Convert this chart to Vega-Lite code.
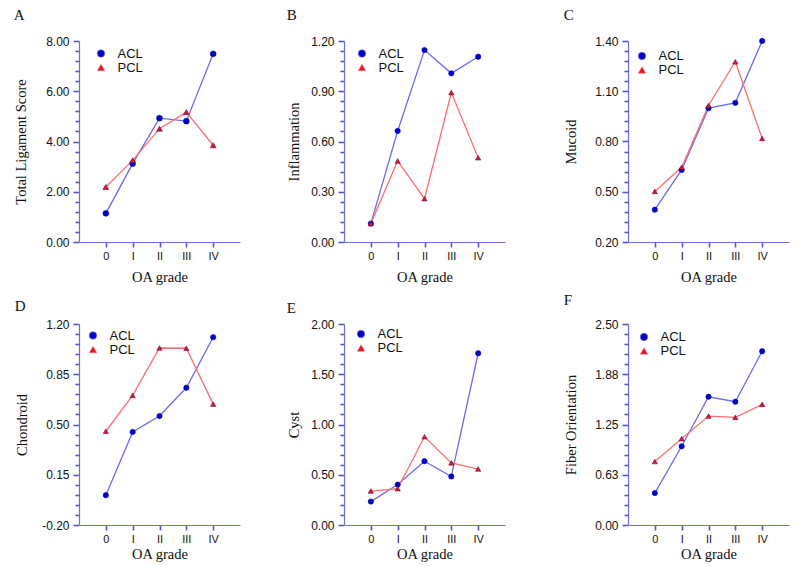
{
  "$schema": "https://vega.github.io/schema/vega-lite/v6.json",
  "padding": {"left": 13, "top": 8, "right": 5, "bottom": 5},
  "background": "white",
  "data": {"values": [
    {"panel":"A","g":0,"lig":"ACL","v":1.14},{"panel":"A","g":1,"lig":"ACL","v":3.12},{"panel":"A","g":2,"lig":"ACL","v":4.93},{"panel":"A","g":3,"lig":"ACL","v":4.81},{"panel":"A","g":4,"lig":"ACL","v":7.49},
    {"panel":"A","g":0,"lig":"PCL","v":2.19},{"panel":"A","g":1,"lig":"PCL","v":3.25},{"panel":"A","g":2,"lig":"PCL","v":4.51},{"panel":"A","g":3,"lig":"PCL","v":5.17},{"panel":"A","g":4,"lig":"PCL","v":3.85},
    {"panel":"B","g":0,"lig":"ACL","v":0.11},{"panel":"B","g":1,"lig":"ACL","v":0.663},{"panel":"B","g":2,"lig":"ACL","v":1.146},{"panel":"B","g":3,"lig":"ACL","v":1.007},{"panel":"B","g":4,"lig":"ACL","v":1.106},
    {"panel":"B","g":0,"lig":"PCL","v":0.11},{"panel":"B","g":1,"lig":"PCL","v":0.484},{"panel":"B","g":2,"lig":"PCL","v":0.259},{"panel":"B","g":3,"lig":"PCL","v":0.892},{"panel":"B","g":4,"lig":"PCL","v":0.503},
    {"panel":"C","g":0,"lig":"ACL","v":0.393},{"panel":"C","g":1,"lig":"ACL","v":0.63},{"panel":"C","g":2,"lig":"ACL","v":0.999},{"panel":"C","g":3,"lig":"ACL","v":1.031},{"panel":"C","g":4,"lig":"ACL","v":1.4},
    {"panel":"C","g":0,"lig":"PCL","v":0.502},{"panel":"C","g":1,"lig":"PCL","v":0.646},{"panel":"C","g":2,"lig":"PCL","v":1.015},{"panel":"C","g":3,"lig":"PCL","v":1.276},{"panel":"C","g":4,"lig":"PCL","v":0.818},
    {"panel":"D","g":0,"lig":"ACL","v":0.008},{"panel":"D","g":1,"lig":"ACL","v":0.448},{"panel":"D","g":2,"lig":"ACL","v":0.559},{"panel":"D","g":3,"lig":"ACL","v":0.756},{"panel":"D","g":4,"lig":"ACL","v":1.108},
    {"panel":"D","g":0,"lig":"PCL","v":0.453},{"panel":"D","g":1,"lig":"PCL","v":0.703},{"panel":"D","g":2,"lig":"PCL","v":1.033},{"panel":"D","g":3,"lig":"PCL","v":1.031},{"panel":"D","g":4,"lig":"PCL","v":0.642},
    {"panel":"E","g":0,"lig":"ACL","v":0.233},{"panel":"E","g":1,"lig":"ACL","v":0.402},{"panel":"E","g":2,"lig":"ACL","v":0.635},{"panel":"E","g":3,"lig":"ACL","v":0.483},{"panel":"E","g":4,"lig":"ACL","v":1.709},
    {"panel":"E","g":0,"lig":"PCL","v":0.338},{"panel":"E","g":1,"lig":"PCL","v":0.362},{"panel":"E","g":2,"lig":"PCL","v":0.878},{"panel":"E","g":3,"lig":"PCL","v":0.618},{"panel":"E","g":4,"lig":"PCL","v":0.557},
    {"panel":"F","g":0,"lig":"ACL","v":0.397},{"panel":"F","g":1,"lig":"ACL","v":0.979},{"panel":"F","g":2,"lig":"ACL","v":1.595},{"panel":"F","g":3,"lig":"ACL","v":1.533},{"panel":"F","g":4,"lig":"ACL","v":2.161},
    {"panel":"F","g":0,"lig":"PCL","v":0.789},{"panel":"F","g":1,"lig":"PCL","v":1.074},{"panel":"F","g":2,"lig":"PCL","v":1.355},{"panel":"F","g":3,"lig":"PCL","v":1.339},{"panel":"F","g":4,"lig":"PCL","v":1.5}
  ]},
  "spacing": 9,
  "vconcat": [
    {
      "bounds": "flush",
      "spacing": 104,
      "resolve": {"scale": {"color": "independent", "fill": "independent", "shape": "independent", "stroke": "independent"}},
      "hconcat": [
        {
          "title": {"text": "A", "offset": 12},
          "width": 161, "height": 201,
          "transform": [{"filter": "datum.panel === 'A'"}],
          "resolve": {"axis": {"y": "independent"}},
          "layer": [
            {"mark": {"type": "line", "strokeWidth": 1.3},
             "encoding": {
               "x": {"field": "g", "type": "quantitative", "scale": {"domain": [-1, 5], "nice": false, "zero": false}, "axis": {"values": [0,1,2,3,4], "labelExpr": "['0','I','II','III','IV'][datum.value]", "title": "OA grade", "titlePadding": 9, "ticks": true, "tickSize": 5, "tickColor": "#5555cc", "tickWidth": 1.6, "tickOpacity": 1}},
               "y": {"field": "v", "type": "quantitative", "scale": {"domain": [0, 8], "nice": false, "zero": false},
                     "axis": {"title": "Total Ligament Score", "titlePadding": 17, "values": [0,2,4,6,8], "format": ".2f", "ticks": true, "tickSize": 6, "tickColor": "#5555cc", "tickWidth": 1.6, "tickOpacity": 1}},
               "color": {"field": "lig", "type": "nominal", "scale": {"domain": ["ACL","PCL"], "range": ["#6c6cec","#ff6e6e"]},
                         "legend": {"title": null, "orient": "none", "legendX": 15.5, "legendY": 6, "padding": 0, "rowPadding": 0, "symbolSize": 55, "labelFont": "Liberation Sans", "labelFontSize": 13, "labelColor": "#111111", "labelOffset": 10,
                                    "encode": {"symbols": {"update": {"fill": [{"test": "datum.label === 'ACL'", "value": "#0000c4"}, {"value": "#e8102c"}], "stroke": [{"test": "datum.label === 'ACL'", "value": "#0000c4"}, {"value": "#5a1a48"}], "strokeWidth": {"value": 0.6}, "opacity": {"value": 1}}}}}}
             }},
            {"mark": {"type": "point", "filled": true, "size": 34, "strokeWidth": 0.6, "opacity": 1},
             "encoding": {
               "x": {"field": "g", "type": "quantitative"},
               "y": {"field": "v", "type": "quantitative", "axis": {"orient": "left", "title": null, "labels": false, "domain": false, "ticks": true, "tickSize": 4, "tickColor": "#5555cc", "tickWidth": 1.6, "tickOpacity": 1, "values": [0.4,0.8,1.2,1.6,2.4,2.8,3.2,3.6,4.4,4.8,5.2,5.6,6.4,6.8,7.2,7.6]}},
               "shape": {"field": "lig", "type": "nominal", "scale": {"domain": ["ACL","PCL"], "range": ["circle","triangle-up"]}, "legend": null},
               "fill": {"field": "lig", "type": "nominal", "scale": {"domain": ["ACL","PCL"], "range": ["#0000c4","#e8102c"]}, "legend": null},
               "stroke": {"field": "lig", "type": "nominal", "scale": {"domain": ["ACL","PCL"], "range": ["#0000c4","#5a1a48"]}, "legend": null}
             }}
          ]
        },
        {
          "bounds": "flush",
          "spacing": 123,
          "resolve": {"scale": {"color": "independent", "fill": "independent", "shape": "independent", "stroke": "independent"}},
          "hconcat": [
            {
              "title": {"text": "B", "offset": 12},
              "width": 161, "height": 201,
              "transform": [{"filter": "datum.panel === 'B'"}],
              "resolve": {"axis": {"y": "independent"}},
              "layer": [
                {"mark": {"type": "line", "strokeWidth": 1.3},
                 "encoding": {
                   "x": {"field": "g", "type": "quantitative", "scale": {"domain": [-1, 5], "nice": false, "zero": false}, "axis": {"values": [0,1,2,3,4], "labelExpr": "['0','I','II','III','IV'][datum.value]", "title": "OA grade", "titlePadding": 9, "ticks": true, "tickSize": 5, "tickColor": "#5555cc", "tickWidth": 1.6, "tickOpacity": 1}},
                   "y": {"field": "v", "type": "quantitative", "scale": {"domain": [0, 1.2], "nice": false, "zero": false},
                         "axis": {"title": "Inflammation", "titlePadding": 9, "values": [0,0.3,0.6,0.9,1.2], "format": ".2f", "ticks": true, "tickSize": 6, "tickColor": "#5555cc", "tickWidth": 1.6, "tickOpacity": 1}},
                   "color": {"field": "lig", "type": "nominal", "scale": {"domain": ["ACL","PCL"], "range": ["#6c6cec","#ff6e6e"]},
                             "legend": {"title": null, "orient": "none", "legendX": 11.5, "legendY": 6, "padding": 0, "rowPadding": 0, "symbolSize": 55, "labelFont": "Liberation Sans", "labelFontSize": 13, "labelColor": "#111111", "labelOffset": 10,
                                        "encode": {"symbols": {"update": {"fill": [{"test": "datum.label === 'ACL'", "value": "#0000c4"}, {"value": "#e8102c"}], "stroke": [{"test": "datum.label === 'ACL'", "value": "#0000c4"}, {"value": "#5a1a48"}], "strokeWidth": {"value": 0.6}, "opacity": {"value": 1}}}}}}
                 }},
                {"mark": {"type": "point", "filled": true, "size": 28, "strokeWidth": 0.6, "opacity": 1},
                 "encoding": {
                   "x": {"field": "g", "type": "quantitative"},
                   "y": {"field": "v", "type": "quantitative", "axis": {"orient": "left", "title": null, "labels": false, "domain": false, "ticks": true, "tickSize": 4, "tickColor": "#5555cc", "tickWidth": 1.6, "tickOpacity": 1, "values": [0.06,0.12,0.18,0.24,0.36,0.42,0.48,0.54,0.66,0.72,0.78,0.84,0.96,1.02,1.08,1.14]}},
                   "shape": {"field": "lig", "type": "nominal", "scale": {"domain": ["ACL","PCL"], "range": ["circle","triangle-up"]}, "legend": null},
                   "fill": {"field": "lig", "type": "nominal", "scale": {"domain": ["ACL","PCL"], "range": ["#0000c4","#e8102c"]}, "legend": null},
                   "stroke": {"field": "lig", "type": "nominal", "scale": {"domain": ["ACL","PCL"], "range": ["#0000c4","#5a1a48"]}, "legend": null}
                 }}
              ]
            },
            {
              "title": {"text": "C", "offset": 12},
              "width": 161, "height": 201,
              "transform": [{"filter": "datum.panel === 'C'"}],
              "resolve": {"axis": {"y": "independent"}},
              "layer": [
                {"mark": {"type": "line", "strokeWidth": 1.3},
                 "encoding": {
                   "x": {"field": "g", "type": "quantitative", "scale": {"domain": [-1, 5], "nice": false, "zero": false}, "axis": {"values": [0,1,2,3,4], "labelExpr": "['0','I','II','III','IV'][datum.value]", "title": "OA grade", "titlePadding": 9, "ticks": true, "tickSize": 5, "tickColor": "#5555cc", "tickWidth": 1.6, "tickOpacity": 1}},
                   "y": {"field": "v", "type": "quantitative", "scale": {"domain": [0.2, 1.4], "nice": false, "zero": false},
                         "axis": {"title": "Mucoid", "titlePadding": 16, "values": [0.2,0.5,0.8,1.1,1.4], "format": ".2f", "ticks": true, "tickSize": 6, "tickColor": "#5555cc", "tickWidth": 1.6, "tickOpacity": 1}},
                   "color": {"field": "lig", "type": "nominal", "scale": {"domain": ["ACL","PCL"], "range": ["#6c6cec","#ff6e6e"]},
                             "legend": {"title": null, "orient": "none", "legendX": 7.5, "legendY": 8.5, "padding": 0, "rowPadding": 0, "symbolSize": 55, "labelFont": "Liberation Sans", "labelFontSize": 13, "labelColor": "#111111", "labelOffset": 10,
                                        "encode": {"symbols": {"update": {"fill": [{"test": "datum.label === 'ACL'", "value": "#0000c4"}, {"value": "#e8102c"}], "stroke": [{"test": "datum.label === 'ACL'", "value": "#0000c4"}, {"value": "#5a1a48"}], "strokeWidth": {"value": 0.6}, "opacity": {"value": 1}}}}}}
                 }},
                {"mark": {"type": "point", "filled": true, "size": 28, "strokeWidth": 0.6, "opacity": 1},
                 "encoding": {
                   "x": {"field": "g", "type": "quantitative"},
                   "y": {"field": "v", "type": "quantitative", "axis": {"orient": "left", "title": null, "labels": false, "domain": false, "ticks": true, "tickSize": 4, "tickColor": "#5555cc", "tickWidth": 1.6, "tickOpacity": 1, "values": [0.26,0.32,0.38,0.44,0.56,0.62,0.68,0.74,0.86,0.92,0.98,1.04,1.16,1.22,1.28,1.34]}},
                   "shape": {"field": "lig", "type": "nominal", "scale": {"domain": ["ACL","PCL"], "range": ["circle","triangle-up"]}, "legend": null},
                   "fill": {"field": "lig", "type": "nominal", "scale": {"domain": ["ACL","PCL"], "range": ["#0000c4","#e8102c"]}, "legend": null},
                   "stroke": {"field": "lig", "type": "nominal", "scale": {"domain": ["ACL","PCL"], "range": ["#0000c4","#5a1a48"]}, "legend": null}
                 }}
              ]
            }
          ]
        }
      ]
    },
    {
      "bounds": "flush",
      "spacing": 104,
      "resolve": {"scale": {"color": "independent", "fill": "independent", "shape": "independent", "stroke": "independent"}},
      "hconcat": [
        {
          "title": {"text": "D", "offset": 4},
          "width": 161, "height": 201,
          "transform": [{"filter": "datum.panel === 'D'"}],
          "resolve": {"axis": {"y": "independent"}},
          "layer": [
            {"mark": {"type": "line", "strokeWidth": 1.3},
             "encoding": {
               "x": {"field": "g", "type": "quantitative", "scale": {"domain": [-1, 5], "nice": false, "zero": false}, "axis": {"values": [0,1,2,3,4], "labelExpr": "['0','I','II','III','IV'][datum.value]", "title": "OA grade", "titlePadding": 3, "ticks": true, "tickSize": 5, "tickColor": "#5555cc", "tickWidth": 1.6, "tickOpacity": 1}},
               "y": {"field": "v", "type": "quantitative", "scale": {"domain": [-0.2, 1.2], "nice": false, "zero": false},
                     "axis": {"title": "Chondroid", "titlePadding": 12, "values": [-0.2,0.15,0.5,0.85,1.2], "labelExpr": "datum.value < 0 ? '-0.20' : format(datum.value,'.2f')", "ticks": true, "tickSize": 6, "tickColor": "#5555cc", "tickWidth": 1.6, "tickOpacity": 1}},
               "color": {"field": "lig", "type": "nominal", "scale": {"domain": ["ACL","PCL"], "range": ["#6c6cec","#ff6e6e"]},
                         "legend": {"title": null, "orient": "none", "legendX": 7.5, "legendY": 5, "padding": 0, "rowPadding": 0, "symbolSize": 55, "labelFont": "Liberation Sans", "labelFontSize": 13, "labelColor": "#111111", "labelOffset": 10,
                                    "encode": {"symbols": {"update": {"fill": [{"test": "datum.label === 'ACL'", "value": "#0000c4"}, {"value": "#e8102c"}], "stroke": [{"test": "datum.label === 'ACL'", "value": "#0000c4"}, {"value": "#5a1a48"}], "strokeWidth": {"value": 0.6}, "opacity": {"value": 1}}}}}}
             }},
            {"mark": {"type": "point", "filled": true, "size": 28, "strokeWidth": 0.6, "opacity": 1},
             "encoding": {
               "x": {"field": "g", "type": "quantitative"},
               "y": {"field": "v", "type": "quantitative", "axis": {"orient": "left", "title": null, "labels": false, "domain": false, "ticks": true, "tickSize": 4, "tickColor": "#5555cc", "tickWidth": 1.6, "tickOpacity": 1, "values": [-0.13,-0.06,0.01,0.08,0.22,0.29,0.36,0.43,0.57,0.64,0.71,0.78,0.92,0.99,1.06,1.13]}},
               "shape": {"field": "lig", "type": "nominal", "scale": {"domain": ["ACL","PCL"], "range": ["circle","triangle-up"]}, "legend": null},
               "fill": {"field": "lig", "type": "nominal", "scale": {"domain": ["ACL","PCL"], "range": ["#0000c4","#e8102c"]}, "legend": null},
               "stroke": {"field": "lig", "type": "nominal", "scale": {"domain": ["ACL","PCL"], "range": ["#0000c4","#5a1a48"]}, "legend": null}
             }}
          ]
        },
        {
          "bounds": "flush",
          "spacing": 123,
          "resolve": {"scale": {"color": "independent", "fill": "independent", "shape": "independent", "stroke": "independent"}},
          "hconcat": [
            {
              "title": {"text": "E", "offset": 2},
              "width": 161, "height": 201,
              "transform": [{"filter": "datum.panel === 'E'"}],
              "resolve": {"axis": {"y": "independent"}},
              "layer": [
                {"mark": {"type": "line", "strokeWidth": 1.3},
                 "encoding": {
                   "x": {"field": "g", "type": "quantitative", "scale": {"domain": [-1, 5], "nice": false, "zero": false}, "axis": {"values": [0,1,2,3,4], "labelExpr": "['0','I','II','III','IV'][datum.value]", "title": "OA grade", "titlePadding": 3, "ticks": true, "tickSize": 5, "tickColor": "#5555cc", "tickWidth": 1.6, "tickOpacity": 1}},
                   "y": {"field": "v", "type": "quantitative", "scale": {"domain": [0, 2], "nice": false, "zero": false},
                         "axis": {"title": "Cyst", "titlePadding": 9, "values": [0,0.5,1,1.5,2], "format": ".2f", "ticks": true, "tickSize": 6, "tickColor": "#5555cc", "tickWidth": 1.6, "tickOpacity": 1}},
                   "color": {"field": "lig", "type": "nominal", "scale": {"domain": ["ACL","PCL"], "range": ["#6c6cec","#ff6e6e"]},
                             "legend": {"title": null, "orient": "none", "legendX": 10.5, "legendY": 3.5, "padding": 0, "rowPadding": 0, "symbolSize": 55, "labelFont": "Liberation Sans", "labelFontSize": 13, "labelColor": "#111111", "labelOffset": 10,
                                        "encode": {"symbols": {"update": {"fill": [{"test": "datum.label === 'ACL'", "value": "#0000c4"}, {"value": "#e8102c"}], "stroke": [{"test": "datum.label === 'ACL'", "value": "#0000c4"}, {"value": "#5a1a48"}], "strokeWidth": {"value": 0.6}, "opacity": {"value": 1}}}}}}
                 }},
                {"mark": {"type": "point", "filled": true, "size": 28, "strokeWidth": 0.6, "opacity": 1},
                 "encoding": {
                   "x": {"field": "g", "type": "quantitative"},
                   "y": {"field": "v", "type": "quantitative", "axis": {"orient": "left", "title": null, "labels": false, "domain": false, "ticks": true, "tickSize": 4, "tickColor": "#5555cc", "tickWidth": 1.6, "tickOpacity": 1, "values": [0.1,0.2,0.3,0.4,0.6,0.7,0.8,0.9,1.1,1.2,1.3,1.4,1.6,1.7,1.8,1.9]}},
                   "shape": {"field": "lig", "type": "nominal", "scale": {"domain": ["ACL","PCL"], "range": ["circle","triangle-up"]}, "legend": null},
                   "fill": {"field": "lig", "type": "nominal", "scale": {"domain": ["ACL","PCL"], "range": ["#0000c4","#e8102c"]}, "legend": null},
                   "stroke": {"field": "lig", "type": "nominal", "scale": {"domain": ["ACL","PCL"], "range": ["#0000c4","#5a1a48"]}, "legend": null}
                 }}
              ]
            },
            {
              "title": {"text": "F", "offset": 10},
              "width": 161, "height": 201,
              "transform": [{"filter": "datum.panel === 'F'"}],
              "resolve": {"axis": {"y": "independent"}},
              "layer": [
                {"mark": {"type": "line", "strokeWidth": 1.3},
                 "encoding": {
                   "x": {"field": "g", "type": "quantitative", "scale": {"domain": [-1, 5], "nice": false, "zero": false}, "axis": {"values": [0,1,2,3,4], "labelExpr": "['0','I','II','III','IV'][datum.value]", "title": "OA grade", "titlePadding": 3, "ticks": true, "tickSize": 5, "tickColor": "#5555cc", "tickWidth": 1.6, "tickOpacity": 1}},
                   "y": {"field": "v", "type": "quantitative", "scale": {"domain": [0, 2.5], "nice": false, "zero": false},
                         "axis": {"title": "Fiber Orientation", "titlePadding": 16, "values": [0,0.625,1.25,1.875,2.5], "format": ".2f", "ticks": true, "tickSize": 6, "tickColor": "#5555cc", "tickWidth": 1.6, "tickOpacity": 1}},
                   "color": {"field": "lig", "type": "nominal", "scale": {"domain": ["ACL","PCL"], "range": ["#6c6cec","#ff6e6e"]},
                             "legend": {"title": null, "orient": "none", "legendX": 9.5, "legendY": 6.5, "padding": 0, "rowPadding": 0, "symbolSize": 55, "labelFont": "Liberation Sans", "labelFontSize": 13, "labelColor": "#111111", "labelOffset": 10,
                                        "encode": {"symbols": {"update": {"fill": [{"test": "datum.label === 'ACL'", "value": "#0000c4"}, {"value": "#e8102c"}], "stroke": [{"test": "datum.label === 'ACL'", "value": "#0000c4"}, {"value": "#5a1a48"}], "strokeWidth": {"value": 0.6}, "opacity": {"value": 1}}}}}}
                 }},
                {"mark": {"type": "point", "filled": true, "size": 28, "strokeWidth": 0.6, "opacity": 1},
                 "encoding": {
                   "x": {"field": "g", "type": "quantitative"},
                   "y": {"field": "v", "type": "quantitative", "axis": {"orient": "left", "title": null, "labels": false, "domain": false, "ticks": true, "tickSize": 4, "tickColor": "#5555cc", "tickWidth": 1.6, "tickOpacity": 1, "values": [0.125,0.25,0.375,0.5,0.75,0.875,1,1.125,1.375,1.5,1.625,1.75,2,2.125,2.25,2.375]}},
                   "shape": {"field": "lig", "type": "nominal", "scale": {"domain": ["ACL","PCL"], "range": ["circle","triangle-up"]}, "legend": null},
                   "fill": {"field": "lig", "type": "nominal", "scale": {"domain": ["ACL","PCL"], "range": ["#0000c4","#e8102c"]}, "legend": null},
                   "stroke": {"field": "lig", "type": "nominal", "scale": {"domain": ["ACL","PCL"], "range": ["#0000c4","#5a1a48"]}, "legend": null}
                 }}
              ]
            }
          ]
        }
      ]
    }
  ],
  "resolve": {"scale": {"color": "independent", "fill": "independent", "shape": "independent", "stroke": "independent"}},
  "config": {
    "view": {"stroke": null},
    "title": {"font": "Liberation Serif", "fontSize": 15, "fontWeight": "normal", "anchor": "start", "frame": "bounds", "color": "#111111", "baseline": "alphabetic"},
    "axis": {"grid": false, "labelOverlap": false, "domainColor": "#7070d4", "domainWidth": 1.2, "labelFont": "Liberation Sans", "labelFontSize": 12, "labelColor": "#111111", "labelPadding": 4, "titleFont": "Liberation Serif", "titleFontSize": 14.5, "titleFontWeight": "normal", "titleColor": "#111111"},
    "axisX": {"labelFontSize": 11, "labelPadding": 3}
  }
}
